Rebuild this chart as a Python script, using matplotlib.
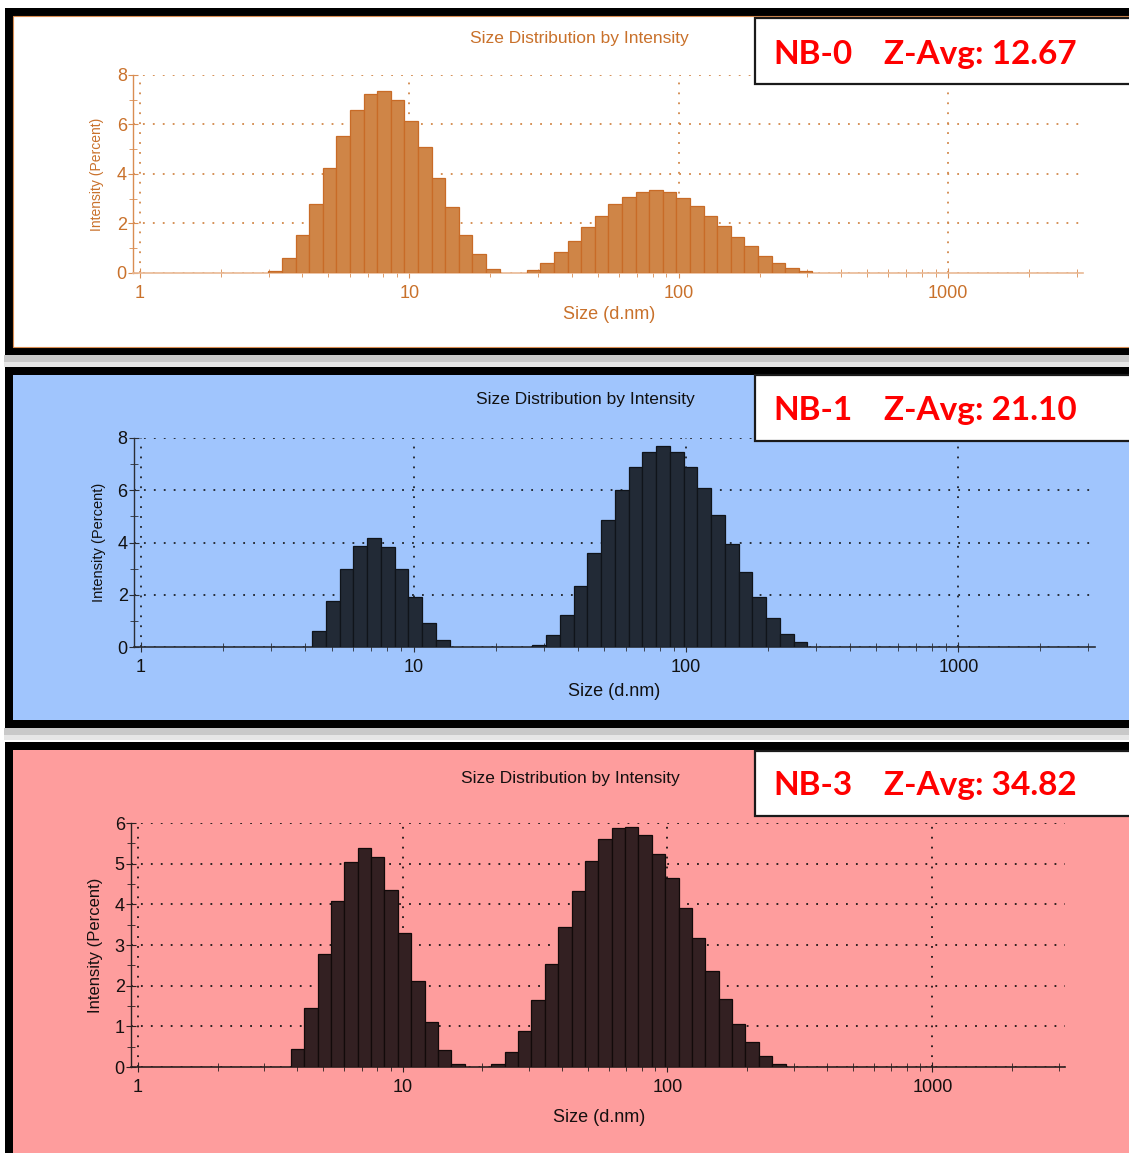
import numpy as np
import matplotlib
matplotlib.use("Agg")
import matplotlib.pyplot as plt
from matplotlib.patches import Rectangle
from matplotlib.ticker import FixedLocator, FixedFormatter, NullFormatter, MultipleLocator

# size classes (d.nm), lower edges of the 40 bins plus the last upper edge
size_edges = [2.99, 3.36, 3.78, 4.25, 4.77, 5.36, 6.02, 6.76, 7.59, 8.53,
              9.58, 10.76, 12.09, 13.58, 15.25, 17.13, 19.24, 21.62, 24.28, 27.28,
              30.64, 34.42, 38.66, 43.43, 48.78, 54.80, 61.55, 69.14, 77.67, 87.25,
              98.0, 110.1, 123.7, 138.9, 156.0, 175.3, 196.9, 221.2, 248.4, 279.1,
              313.5]

# intensity (percent) per size class
nb0_intensity = [0.10, 0.62, 1.54, 2.79, 4.23, 5.54, 6.60, 7.22, 7.37, 6.99,
                 6.15, 5.08, 3.85, 2.65, 1.54, 0.75, 0.18, 0.0, 0.0, 0.11,
                 0.41, 0.85, 1.31, 1.84, 2.31, 2.80, 3.08, 3.27, 3.34, 3.26,
                 3.03, 2.70, 2.31, 1.89, 1.46, 1.08, 0.70, 0.39, 0.19, 0.08]
nb1_intensity = [0.0, 0.0, 0.0, 0.63, 1.76, 2.98, 3.86, 4.18, 3.84, 2.98,
                 1.90, 0.93, 0.27, 0.0, 0.0, 0.0, 0.0, 0.0, 0.0, 0.09,
                 0.45, 1.24, 2.32, 3.60, 4.85, 6.01, 6.89, 7.47, 7.68, 7.46,
                 6.89, 6.08, 5.05, 3.95, 2.87, 1.90, 1.10, 0.51, 0.18, 0.0]
nb3_intensity = [0.0, 0.0, 0.44, 1.46, 2.77, 4.08, 5.03, 5.38, 5.16, 4.36,
                 3.29, 2.11, 1.10, 0.41, 0.07, 0.0, 0.0, 0.08, 0.37, 0.88,
                 1.64, 2.53, 3.45, 4.34, 5.06, 5.60, 5.88, 5.91, 5.70, 5.25,
                 4.64, 3.91, 3.17, 2.36, 1.67, 1.06, 0.61, 0.28, 0.08, 0.0]

samples = ["NB-0", "NB-1", "NB-3"]
z_avg = ["12.67", "21.10", "34.82"]
x_ticks = [1, 10, 100, 1000]
x_ticklabels = ["1", "10", "100", "1000"]

W, H = 1129, 1153
fig = plt.figure(figsize=(W / 100, H / 100), dpi=100)
fig.patch.set_facecolor("white")

# background layer in pixel coordinates
bg = fig.add_axes([0, 0, 1, 1], zorder=-5)
bg.set_xlim(0, W)
bg.set_ylim(H, 0)
bg.axis("off")

# overlay layer for the sample boxes
top = fig.add_axes([0, 0, 1, 1], zorder=10)
top.set_xlim(0, W)
top.set_ylim(H, 0)
top.axis("off")
top.patch.set_alpha(0)

panels = [
    dict(y=nb0_intensity, frame=(8, 355), ax=(133, 75, 1083, 273), ymax=8, ymaj=2, ymin=1,
         face="white", bar="#cf8547", edge="#c86b27", ink="#c9712b", spine="#d98d52",
         base="#e9b995", grid="#d2884a", title_y=43, box=(18, 84), nb_y=64,
         fs_y=10, ylab=(-0.038, 0.5), xlab=(0.501, -0.212)),
    dict(y=nb1_intensity, frame=(367, 728), ax=(134, 438, 1095, 647), ymax=8, ymaj=2, ymin=1,
         face="#a0c5fd", bar="#222a36", edge="#10141a", ink="#111111", spine="#2a2e36",
         base="#2a2e36", grid="#1e2228", title_y=404, box=(375, 441), nb_y=420,
         fs_y=10.5, ylab=(-0.036, 0.5), xlab=(0.4995, -0.213)),
    dict(y=nb3_intensity, frame=(742, 1175), ax=(131, 823, 1065, 1067), ymax=6, ymaj=1, ymin=0.5,
         face="#fe9d9d", bar="#332022", edge="#120a0a", ink="#151010", spine="#2a2020",
         base="#2a2020", grid="#1e1616", title_y=783, box=(751, 816), nb_y=795,
         fs_y=12, ylab=(-0.0375, 0.5), xlab=(0.501, -0.209)),
]

left_edges = np.array(size_edges[:-1])
widths = np.diff(size_edges)

for i, p in enumerate(panels):
    # black frame, coloured card and a soft shadow underneath
    y0, y1 = p["frame"]
    bg.add_patch(Rectangle((4, y1), W, 7, facecolor="#c9c9c9", edgecolor="none"))
    bg.add_patch(Rectangle((4, y1 + 7), W, 5, facecolor="#e6e6e6", edgecolor="none"))
    bg.add_patch(Rectangle((5, y0), W, y1 - y0, facecolor="black", edgecolor="none"))
    bg.add_patch(Rectangle((13, y0 + 8), W, y1 - y0 - 16, facecolor=p["face"],
                           edgecolor=p["spine"] if i == 0 else "none", lw=0.8))

    x0, ya, x1, yb = p["ax"]
    ax = fig.add_axes([x0 / W, 1 - yb / H, (x1 - x0) / W, (yb - ya) / H])
    ax.patch.set_alpha(0)

    h = np.array(p["y"])
    m = h > 0
    ax.bar(left_edges[m], h[m], width=widths[m], align="edge",
           color=p["bar"], edgecolor=p["edge"], linewidth=0.9, zorder=3)

    ax.set_xscale("log")
    ax.set_xlim(0.942, 3170)
    ax.set_ylim(0, p["ymax"])

    ax.xaxis.set_major_locator(FixedLocator(x_ticks))
    ax.xaxis.set_major_formatter(FixedFormatter(x_ticklabels))
    ax.xaxis.set_minor_locator(FixedLocator([m_ * 10 ** d for d in range(0, 4)
                                             for m_ in range(2, 10)]))
    ax.xaxis.set_minor_formatter(NullFormatter())
    ax.yaxis.set_major_locator(MultipleLocator(p["ymaj"]))
    ax.yaxis.set_minor_locator(MultipleLocator(p["ymin"]))

    for s in ("top", "right"):
        ax.spines[s].set_visible(False)
    ax.spines["left"].set_color(p["spine"])
    ax.spines["bottom"].set_color(p["base"])
    ax.spines["left"].set_linewidth(1.0)
    ax.spines["bottom"].set_linewidth(1.2)

    ax.tick_params(axis="both", which="both", direction="inout", colors=p["spine"],
                   labelcolor=p["ink"], labelsize=13)
    ax.tick_params(axis="x", which="major", length=7, pad=5)
    ax.tick_params(axis="x", which="minor", length=6)
    ax.tick_params(axis="y", which="major", length=7, pad=1)
    ax.tick_params(axis="y", which="minor", length=6)
    for lab in ax.get_xticklabels() + ax.get_yticklabels():
        lab.set_family("Liberation Sans")

    ax.grid(True, which="major", color=p["grid"], linestyle=(0, (1, 4.5)), linewidth=1.3)
    ax.set_axisbelow(True)

    ax.set_ylabel("Intensity (Percent)", fontsize=p["fs_y"], color=p["ink"],
                  family="Liberation Sans")
    ax.yaxis.set_label_coords(*p["ylab"])
    ax.yaxis.label.set_va("center")
    ax.set_xlabel("Size (d.nm)", fontsize=13, color=p["ink"], family="Liberation Sans")
    ax.xaxis.set_label_coords(*p["xlab"])
    ax.xaxis.label.set_va("center")

    title_x = [579, 585, 570][i]
    bg.text(title_x, p["title_y"], "Size Distribution by Intensity", ha="center",
            va="baseline", fontsize=12.5, color=p["ink"], family="Liberation Sans")

    # sample label box
    b0, b1 = p["box"]
    top.add_patch(Rectangle((755, b0), W, b1 - b0, facecolor="white",
                            edgecolor="#1a1a1a", linewidth=1.6))
    top.text(773, p["nb_y"], samples[i], ha="left", va="baseline", fontsize=24,
             fontweight="bold", color="#ff0000", family="Lato")
    top.text(884, p["nb_y"], "Z-Avg: " + z_avg[i], ha="left", va="baseline", fontsize=24,
             fontweight="bold", color="#ff0000", family="Lato")

fig.savefig("out.png", dpi=100)
